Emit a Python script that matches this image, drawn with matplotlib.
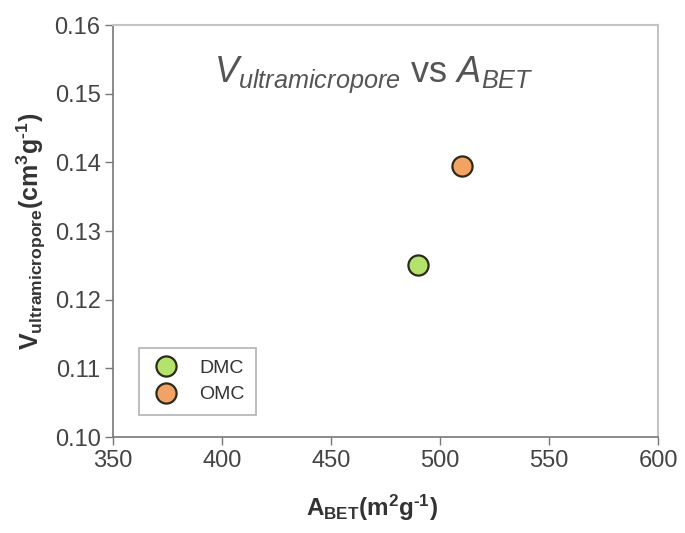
import matplotlib.pyplot as plt

# surface area vs ultramicropore volume for the two carbons
samples = ['DMC', 'OMC']
a_bet = [490, 510]
v_ultra = [0.125, 0.1395]
colors = ['#b3e36b', '#f2a263']

x_ticks = [350, 400, 450, 500, 550, 600]
y_ticks = [0.10, 0.11, 0.12, 0.13, 0.14, 0.15, 0.16]

plt.rcParams['font.family'] = 'Liberation Sans'
plt.rcParams['mathtext.fontset'] = 'custom'
plt.rcParams['mathtext.rm'] = 'Liberation Sans'
plt.rcParams['mathtext.it'] = 'Liberation Sans:italic'
plt.rcParams['mathtext.bf'] = 'Liberation Sans:bold'

fig = plt.figure(figsize=(6.85, 5.33), dpi=100)
ax = fig.add_axes([0.165, 0.180, 0.796, 0.773])

for name, x, y, c in zip(samples, a_bet, v_ultra, colors):
    ax.plot(x, y, 'o', ms=14.5, mfc=c, mec='#2b2b1c', mew=1.6, label=name)

ax.set_xlim(350, 600)
ax.set_ylim(0.10, 0.16)
ax.set_xticks(x_ticks)
ax.set_yticks(y_ticks)
ax.set_yticklabels(['%.2f' % t for t in y_ticks])

for side in ['left', 'bottom']:
    ax.spines[side].set_color('#777777')
    ax.spines[side].set_linewidth(1.2)
for side in ['top', 'right']:
    ax.spines[side].set_color('#c4c4c4')
    ax.spines[side].set_linewidth(1.5)
ax.tick_params(direction='out', length=6, width=1, color='#777777',
               labelsize=17, labelcolor='#444444', pad=3)

# hyphen (u2010) instead of the mathtext minus in the exponents
ax.set_xlabel('$\\mathbf{A_{BET}(m^{2}g^{\u20101})}$',
              fontsize=17.5, color='#333333', labelpad=12)
ax.xaxis.set_label_coords(0.475, -0.135)
ax.set_ylabel('$\\mathbf{V_{ultramicropore}(cm^{3}g^{\u20101})}$',
              fontsize=18, color='#333333', labelpad=5)

ax.text(0.479, 0.879, r'$V_{ultramicropore}$ vs $A_{BET}$', transform=ax.transAxes,
        ha='center', va='center', fontsize=26, color='#555555')

leg = ax.legend(loc='lower left', bbox_to_anchor=(0.03, 0.03), fontsize=14,
                frameon=True, fancybox=False, handletextpad=0.9,
                borderpad=0.6, labelspacing=0.45, handlelength=1.6)
leg.get_frame().set_edgecolor('#a0a0a0')
leg.get_frame().set_linewidth(1.2)
for t in leg.get_texts():
    t.set_color('#333333')

fig.savefig('out.png', dpi=100)
